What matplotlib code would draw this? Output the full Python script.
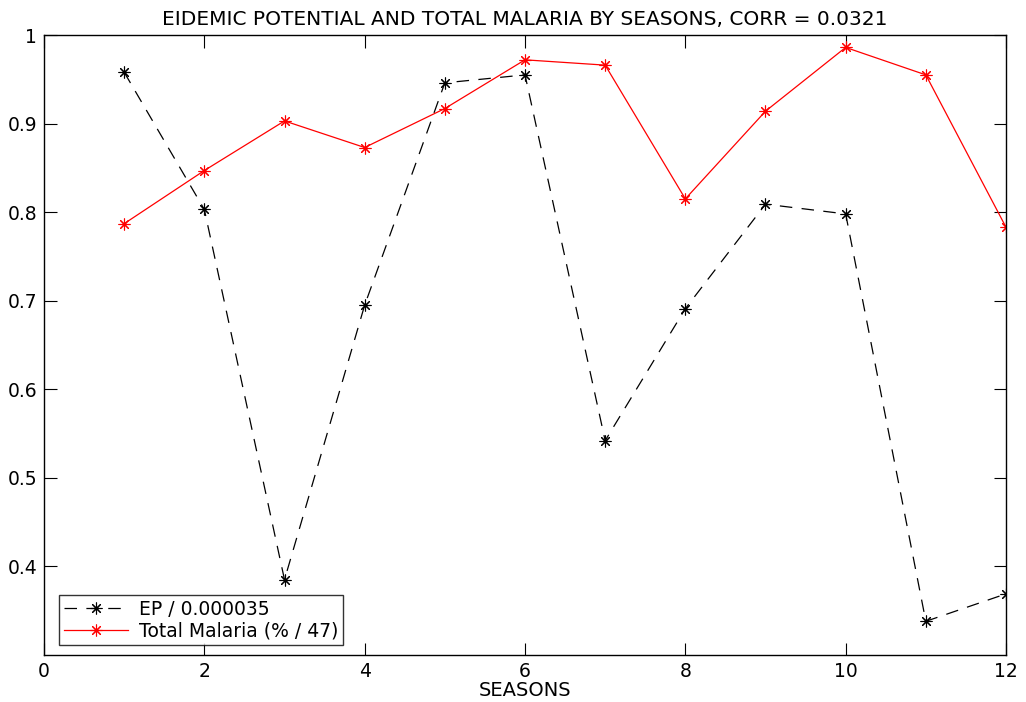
import matplotlib
matplotlib.use("Agg")
import matplotlib.pyplot as plt

plt.rcParams['font.family'] = ['DejaVu Sans']

seasons = [1, 2, 3, 4, 5, 6, 7, 8, 9, 10, 11, 12]
ep_scaled = [0.958, 0.803, 0.385, 0.695, 0.946, 0.955, 0.542, 0.691, 0.809, 0.798, 0.338, 0.369]
malaria_scaled = [0.787, 0.847, 0.903, 0.873, 0.917, 0.972, 0.966, 0.815, 0.914, 0.986, 0.955, 0.783]

x_ticks = [0, 2, 4, 6, 8, 10, 12]
y_ticks = [0.4, 0.5, 0.6, 0.7, 0.8, 0.9, 1.0]
y_tick_labels = ['0.4', '0.5', '0.6', '0.7', '0.8', '0.9', '1']

# MATLAB-style asterisk: eight-pointed star made of four crossing strokes
asterisk = (8, 2, 0)

fig = plt.figure(figsize=(10.26, 7.02), dpi=100)
ax = fig.add_axes([0.0429, 0.067, 0.9376, 0.8831])

ax.plot(seasons, ep_scaled, color='black', linestyle=(0, (10, 7.5)), linewidth=0.9,
        marker=asterisk, markersize=8.5, markeredgewidth=0.8, label='EP / 0.000035')
ax.plot(seasons, malaria_scaled, color='red', linestyle='-', linewidth=0.9,
        marker=asterisk, markersize=8.5, markeredgewidth=0.8, label='Total Malaria (% / 47)')

ax.set_xlim(0, 12)
ax.set_ylim(0.3, 1.0)
ax.set_xticks(x_ticks)
ax.set_yticks(y_ticks)
ax.set_yticklabels(y_tick_labels)
ax.tick_params(direction='in', top=True, right=True, length=9, width=0.8,
               labelsize=13.5, pad=5)
for s in ax.spines.values():
    s.set_linewidth(1.0)

ax.set_xlabel('SEASONS', fontsize=14, labelpad=0)
ax.set_title('EIDEMIC POTENTIAL AND TOTAL MALARIA BY SEASONS, CORR = 0.0321',
             fontsize=14.5, pad=7)

leg = ax.legend(loc='lower left', bbox_to_anchor=(0.012, 0.01), fontsize=13.5,
                frameon=True, fancybox=False, edgecolor='black',
                handlelength=3.4, borderpad=0.25, labelspacing=0.15,
                handletextpad=0.6, borderaxespad=0.2)
leg.get_frame().set_linewidth(1.0)

fig.savefig('out.png', dpi=100)
